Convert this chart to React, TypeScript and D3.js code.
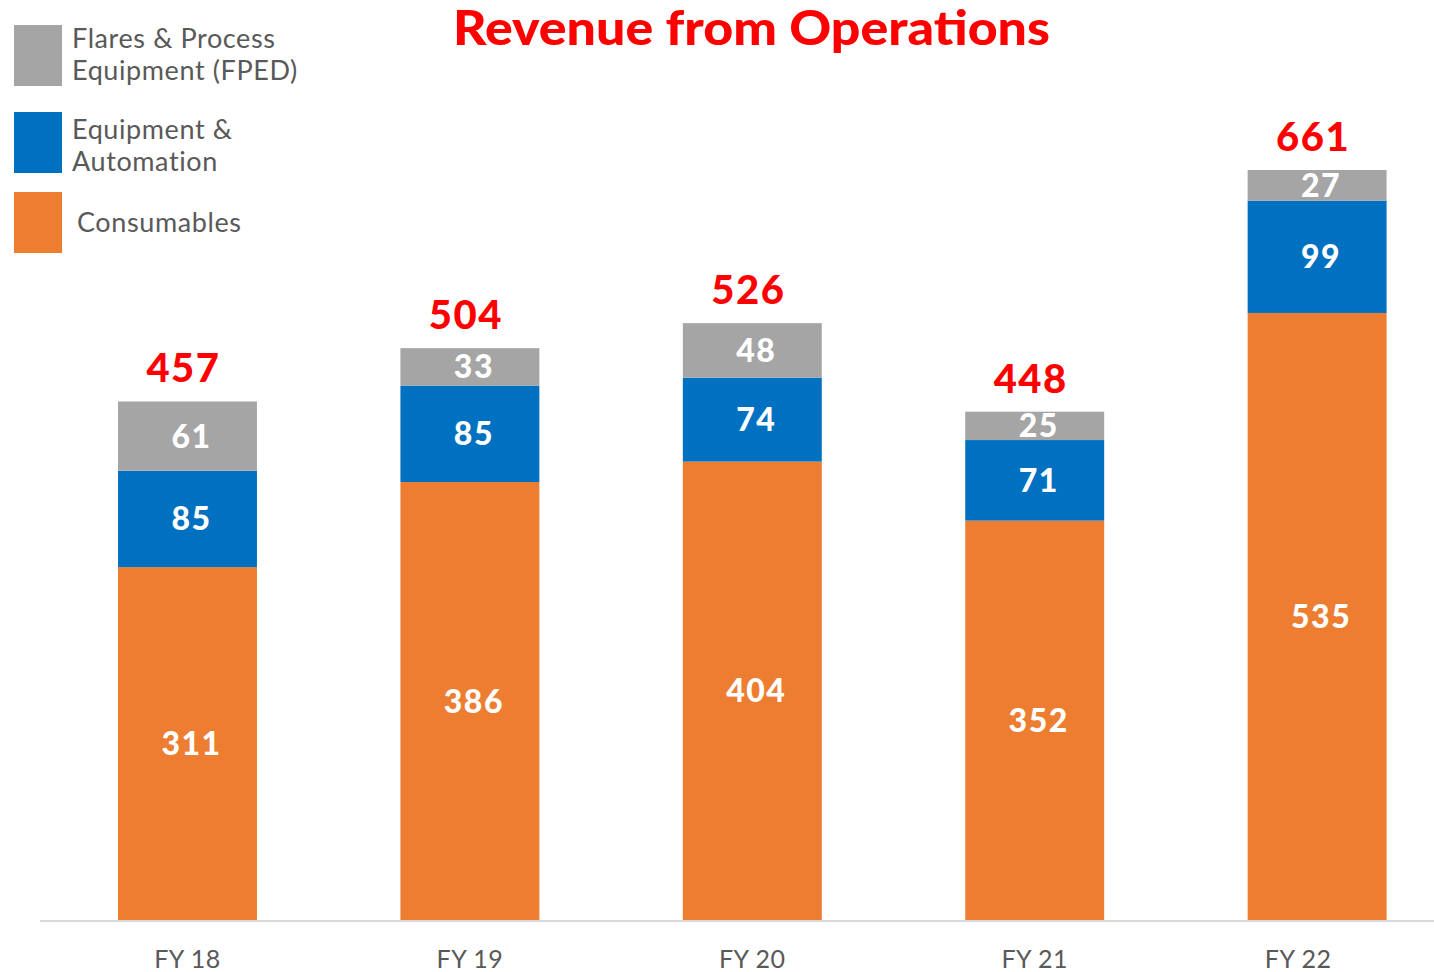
import React from "react";
import * as d3 from "d3";

const categories = ["FY 18", "FY 19", "FY 20", "FY 21", "FY 22"];
const consumables = [311, 386, 404, 352, 535];
const equipmentAutomation = [85, 85, 74, 71, 99];
const fped = [61, 33, 48, 25, 27];
const totals = [457, 504, 526, 448, 661];

const seriesNames = ["Consumables", "Equipment & Automation", "Flares & Process Equipment (FPED)"];
const seriesColors = ["#ED7D31", "#0070C0", "#A5A5A5"];

const W = 1434;
const H = 972;

export default function App() {
  const x = d3
    .scaleBand<string>()
    .domain(categories)
    .range([46, 1458.6])
    .paddingInner(0.508)
    .paddingOuter(0.255);
  const y = d3.scaleLinear().domain([0, 661]).range([920, 170]);

  const rows = categories.map((c, i) => ({
    cat: c,
    Consumables: consumables[i],
    "Equipment & Automation": equipmentAutomation[i],
    "Flares & Process Equipment (FPED)": fped[i],
  }));
  const stack = d3.stack<any>().keys(seriesNames)(rows);

  const font = "Lato, 'Open Sans', sans-serif";
  const legendStyle = { fontFamily: font, fontSize: 27, fill: "#595959", letterSpacing: 0.6 } as const;

  return (
    <svg width={W} height={H} style={{ position: "absolute", left: 0, top: 0, background: "#fff" }}>
      <text
        x={751.5}
        y={45}
        textAnchor="middle"
        fontFamily={font}
        fontWeight={900}
        fontSize={47}
        fill="#FF0000"
        textLength={597}
        lengthAdjust="spacingAndGlyphs"
      >
        Revenue from Operations
      </text>

      {/* legend */}
      <rect x={14} y={25} width={48} height={61} fill="#A5A5A5" />
      <text x={72} y={48} {...legendStyle}>Flares &amp; Process</text>
      <text x={72} y={80} {...legendStyle}>Equipment (FPED)</text>
      <rect x={14} y={112} width={48} height={61} fill="#0070C0" />
      <text x={72} y={139} {...legendStyle}>Equipment &amp;</text>
      <text x={72} y={171} {...legendStyle}>Automation</text>
      <rect x={14} y={192} width={48} height={61} fill="#ED7D31" />
      <text x={77} y={232} {...legendStyle}>Consumables</text>

      {/* axis line */}
      <line x1={40} x2={1434} y1={921} y2={921} stroke="#D9D9D9" strokeWidth={2} />

      {stack.map((layer, si) =>
        layer.map((d, i) => {
          const x0 = x(categories[i])!;
          const bw = x.bandwidth();
          const y0 = y(d[0]);
          const y1 = y(d[1]);
          return (
            <g key={`${si}-${i}`}>
              <rect x={x0} y={y1} width={bw} height={y0 - y1} fill={seriesColors[si]} />
              <text
                x={x0 + bw / 2 + 4}
                y={(y0 + y1) / 2}
                dy="0.36em"
                textAnchor="middle"
                fontFamily={font}
                fontWeight={900}
                fontSize={32}
                letterSpacing={1.5}
                fill="#FFFFFF"
              >
                {d[1] - d[0]}
              </text>
            </g>
          );
        })
      )}

      {categories.map((c, i) => {
        const cx = x(c)! + x.bandwidth() / 2;
        return (
          <g key={c}>
            <text
              x={cx - 4}
              y={y(totals[i]) - 19}
              textAnchor="middle"
              fontFamily={font}
              fontWeight={900}
              fontSize={40}
              letterSpacing={1.5}
              fill="#FF0000"
            >
              {totals[i]}
            </text>
            <text
              x={cx}
              dx={i === categories.length - 1 ? -19 : 0}
              y={968}
              textAnchor="middle"
              fontFamily={font}
              fontSize={25}
              letterSpacing={0.5}
              fill="#595959"
            >
              {c}
            </text>
          </g>
        );
      })}
    </svg>
  );
}
